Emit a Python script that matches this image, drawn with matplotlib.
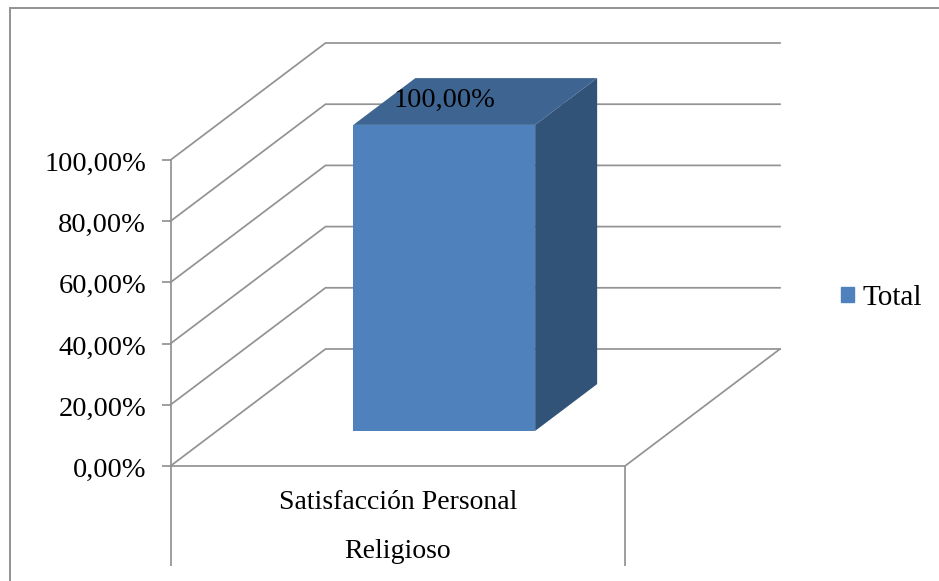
#!/usr/bin/env python
from matplotlib import pyplot as plt
from matplotlib.lines import Line2D
from matplotlib.patches import Patch
from matplotlib.transforms import ScaledTranslation

categories = ['Satisfacción Personal\nReligioso']
series_name = 'Total'
values = [1.0]
value_labels = ['100,00%']
y_ticks = [0.0, 0.2, 0.4, 0.6, 0.8, 1.0]
y_labels = ['0,00%', '20,00%', '40,00%', '60,00%', '80,00%', '100,00%']

W, H = 939, 581
LEFT, RIGHT, BOTTOM, TOP = 170.5, 625, 466, 160
GRID = '#929292'
FONT = 'Liberation Serif'

# how far the back wall sits from the front plane, in data units
DEPTH_X = 155 / (RIGHT - LEFT)
DEPTH_Y = 117 / (BOTTOM - TOP)


def project(x, y, d):
    return x + d * DEPTH_X, y + d * DEPTH_Y


def line3d(ax, pts, **kw):
    xy = [project(*p) for p in pts]
    ax.plot([p[0] for p in xy], [p[1] for p in xy], color=GRID, lw=1.25,
            clip_on=False, solid_joinstyle='miter', **kw)


def face(ax, pts, color):
    xy = [project(*p) for p in pts]
    ax.fill([p[0] for p in xy], [p[1] for p in xy], color=color, lw=0,
            clip_on=False, zorder=3)


def main():
    plt.rcParams['font.family'] = [FONT, 'DejaVu Serif']
    fig = plt.figure(figsize=(W / 100, H / 100), dpi=100)
    ax = fig.add_axes([LEFT / W, 1 - BOTTOM / H, (RIGHT - LEFT) / W, (BOTTOM - TOP) / H])
    ax.set_xlim(-0.5, 0.5)
    ax.set_ylim(0, 1)
    for spine in ax.spines.values():
        spine.set_visible(False)

    # walls and floor
    for v in y_ticks:
        line3d(ax, [(-0.5, v, 0), (-0.5, v, 1), (0.5, v, 1)], zorder=1)
    line3d(ax, [(-0.5, 0, 0), (-0.5, 1, 0)], zorder=1)
    line3d(ax, [(-0.5, 0, 0), (0.5, 0, 0), (0.5, 0, 1)], zorder=1)

    # bar
    half = 0.2
    d0, d1 = 0.3, 0.7
    for i, val in enumerate(values):
        x0, x1 = i - half, i + half
        face(ax, [(x0, val, d0), (x1, val, d0), (x1, val, d1), (x0, val, d1)], '#3E6592')
        face(ax, [(x1, 0, d0), (x1, 0, d1), (x1, val, d1), (x1, val, d0)], '#325378')
        face(ax, [(x0, 0, d0), (x1, 0, d0), (x1, val, d0), (x0, val, d0)], '#4F81BD')
        ax.annotate(value_labels[i], xy=(i, val), xytext=(34, 43), textcoords='offset points',
                    ha='center', va='center', fontsize=20.5, color='black', zorder=5,
                    annotation_clip=False)

    ax.set_yticks(y_ticks)
    ax.set_yticklabels(y_labels, fontsize=20.5)
    ax.tick_params(axis='y', length=6.5, width=1.25, color=GRID, pad=11)
    shift = ScaledTranslation(0, -1.5 / 100, fig.dpi_scale_trans)
    for label in ax.get_yticklabels():
        label.set_transform(label.get_transform() + shift)

    ax.set_xticks(range(len(categories)))
    ax.set_xticklabels(categories, fontsize=20, linespacing=2.3)
    ax.tick_params(axis='x', length=0, pad=17)
    ax.set_xticks([-0.5, 0.5], minor=True)
    ax.tick_params(axis='x', which='minor', length=72, width=1.25, color=GRID)

    fig.legend(handles=[Patch(color='#4F81BD', label=series_name)], loc='center left',
               bbox_to_anchor=(815 / W, 1 - 298 / H), frameon=False, fontsize=21,
               handlelength=0.45, handleheight=0.45, handletextpad=0.27)

    # chart border, cropped at the right and bottom of the picture
    fig.add_artist(Line2D([9.5 / W, 9.5 / W, 1], [0, 1 - 8 / H, 1 - 8 / H], color=GRID, lw=1.4,
                          solid_joinstyle='miter'))

    fig.savefig('out.png', dpi=100)


if __name__ == '__main__':
    main()
